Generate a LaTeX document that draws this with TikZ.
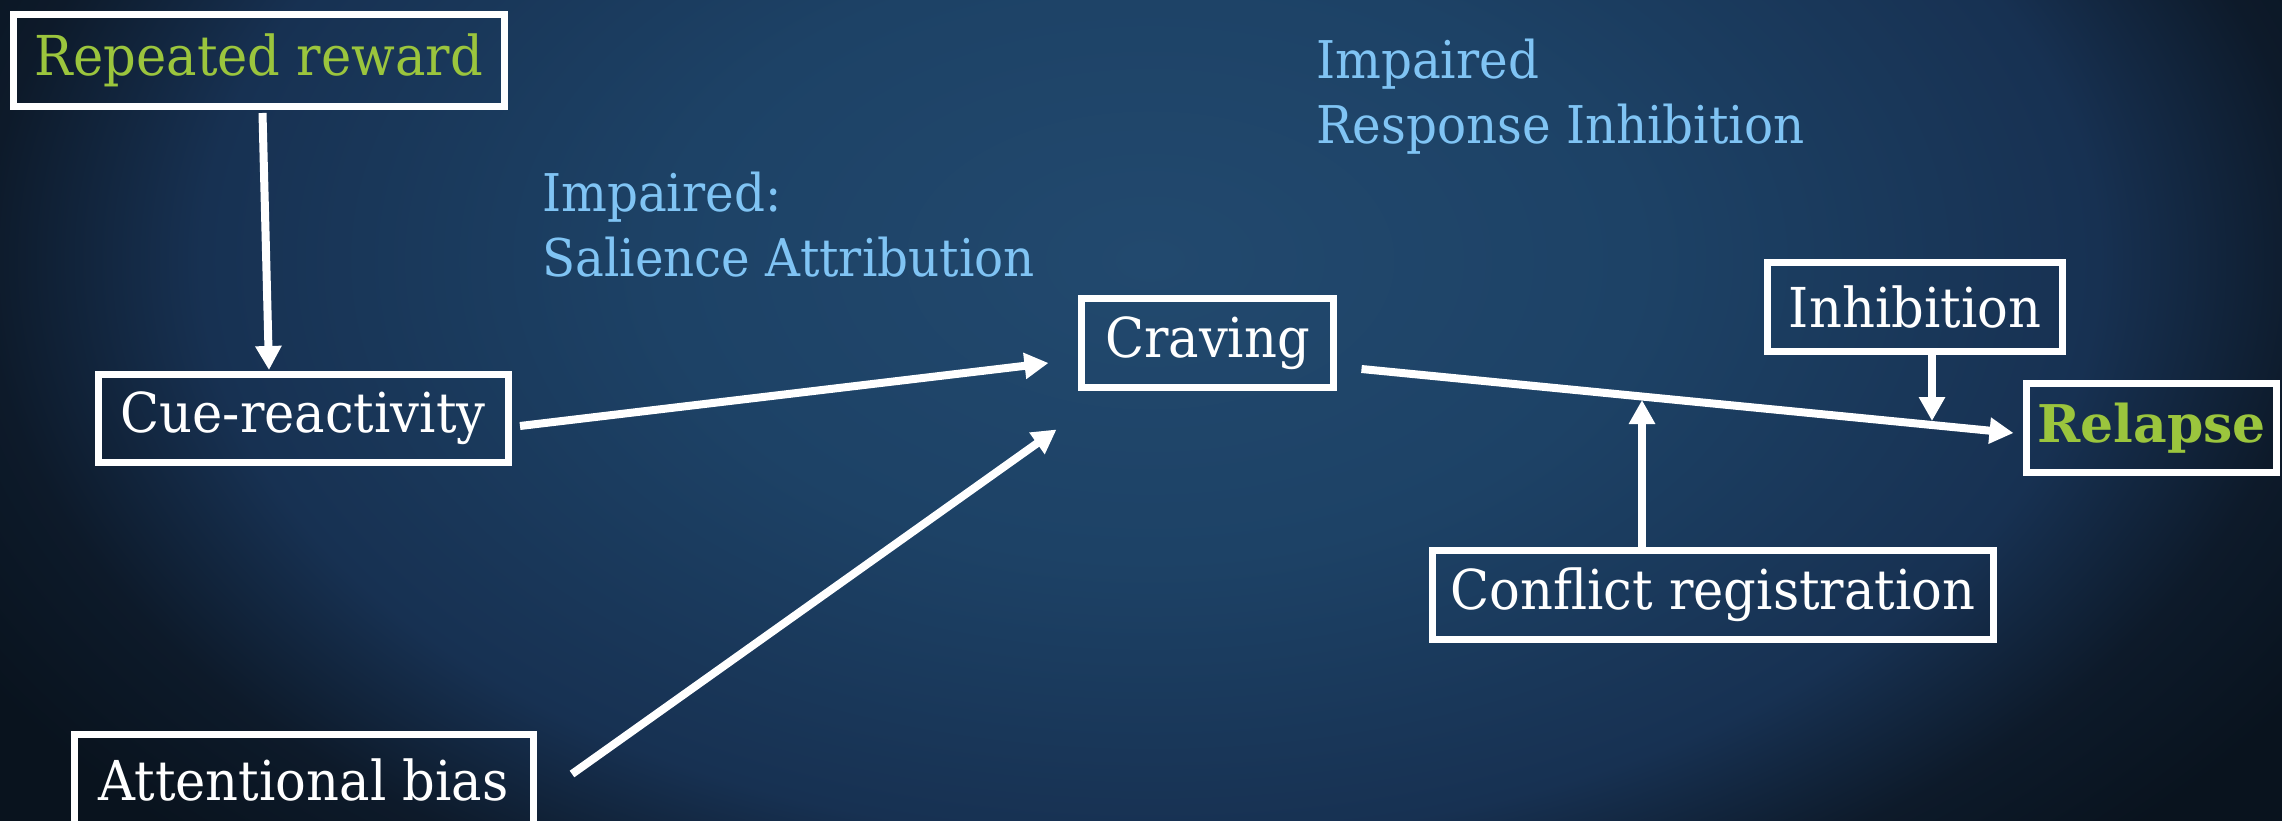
\documentclass[tikz,border=0pt]{standalone}
\usepackage{fontspec}
\setmainfont{DejaVu Serif}[FakeStretch=0.93, BoldFeatures={FakeStretch=1}]
\usetikzlibrary{arrows.meta,calc}

\definecolor{bgA}{HTML}{22496E}
\definecolor{bgB}{HTML}{1D4266}
\definecolor{bgC}{HTML}{173152}
\definecolor{bgD}{HTML}{0D1A2A}
\definecolor{bgE}{HTML}{09131E}
\definecolor{leafgreen}{HTML}{9BC53D}
\definecolor{skyblue}{HTML}{80C4F4}

% soft glow behind the diagram, 100bp square with stops out to 50bp
\pgfdeclareradialshading{slideglow}{\pgfpoint{0bp}{0bp}}{%
  color(0bp)=(bgA); color(18bp)=(bgB); color(35bp)=(bgC);
  color(43bp)=(bgD); color(50bp)=(bgE)}

\tikzset{
  box/.style={draw=white, line width=7pt, inner sep=0pt, align=center,
    text=white, font=\fontsize{55}{60}\selectfont},
  note/.style={text=skyblue, anchor=north west, align=left, inner sep=0pt,
    font=\fontsize{52}{65}\selectfont},
  arr/.style={draw=white, line width=8pt,
    -{Triangle[width=25pt,length=24pt]}}
}

\begin{document}
\begin{tikzpicture}[x=1pt,y=-1pt]
  % canvas and background glow
  \useasboundingbox (0,0) rectangle (2282,821);
  \begin{scope}
    \clip (0,0) rectangle (2282,821);
    \fill[bgE] (0,0) rectangle (2282,821);
    \node[inner sep=0pt] (glow) at (1150,260)
      {\scalebox{27}[16.5]{\pgfuseshading{slideglow}}};
  \end{scope}

  % boxes
  \node[box, minimum width=491pt, minimum height=92pt, text=leafgreen]
    (rep) at (259,60.5) {Repeated reward};
  \node[box, minimum width=410pt, minimum height=88pt]
    (cue) at (303,418.5) {Cue-reactivity};
  \node[box, minimum width=459pt, minimum height=92pt]
    (att) at (303.5,780) {Attentional bias};
  \node[box, minimum width=252pt, minimum height=89pt]
    (crav) at (1207.5,343) {Craving};
  \node[box, minimum width=295pt, minimum height=89pt]
    (inhib) at (1915,307) {Inhibition};
  \node[box, minimum width=250pt, minimum height=89pt, text=leafgreen,
    font=\fontsize{52}{60}\selectfont\bfseries]
    (rel) at (2151.5,428) {Relapse};
  \node[box, minimum width=561pt, minimum height=89pt]
    (conf) at (1713,595) {Conflict registration};

  % labels
  \node[note] (sal) at (542,172) {Impaired:\\Salience Attribution};
  \node[note] (resp) at (1316,39) {Impaired\\Response Inhibition};

  % meeting points on the craving-relapse path
  \coordinate (inhibTip) at (1932,421);
  \coordinate (confTip) at (1642,400);

  % connectors
  \draw[arr] ($(rep.south)+(3.5,3)$) -- ($(cue.north)+(-34,-1)$);
  \draw[arr] ($(cue.east)+(8.5,7.5)$) -- ($(crav.west)+(-29.5,20)$);
  \draw[arr] ($(att.east)+(35.5,-6)$) -- ($(crav.south west)+(-21.5,38.5)$);
  \draw[arr] ($(crav.east)+(24.5,26)$) -- ($(rel.west)+(-9.5,5)$);
  \draw[arr] (inhib.south -| inhibTip) -- (inhibTip);
  \draw[arr] ($(conf.north -| confTip)+(0,4)$) -- (confTip);
\end{tikzpicture}
\end{document}
